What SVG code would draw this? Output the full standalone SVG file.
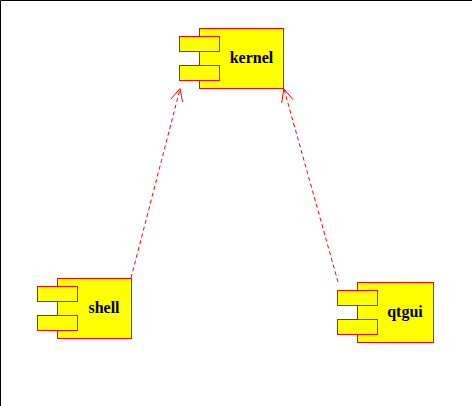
<svg xmlns="http://www.w3.org/2000/svg" width="472" height="406" viewBox="0 0 472 406">
<style>
.box{fill:#ffff00;stroke:#ff0000;stroke-width:1}
.lbl{font-family:"Liberation Serif","Times New Roman",serif;font-weight:bold;font-size:16px;fill:#000;text-anchor:middle}
.dep{fill:none;stroke:#ff0000;stroke-width:1;stroke-dasharray:4,3}
.head{fill:none;stroke:#ff0000;stroke-width:1}
</style>
<rect x="0" y="0" width="472" height="406" fill="#ffffff"/>
<path d="M0.5,406 V0.5 H472" fill="none" stroke="#000" stroke-width="1"/>
<g id="connectors">
<path class="dep" d="M131,278 L180,89"/>
<path class="head" d="M171,99 L180,88.5 L182.6,102"/>
<path class="dep" d="M338,282 L284,89"/>
<path class="head" d="M281.7,103 L283.8,88.8 L293,99.6"/>
</g>
<g id="kernel">
<rect class="box" x="199.5" y="28.5" width="84" height="60"/>
<rect class="box" x="179.5" y="36.5" width="40" height="15"/>
<rect class="box" x="179.5" y="65.5" width="40" height="15"/>
<text class="lbl" x="251.5" y="63">kernel</text>
</g>
<g id="shell">
<rect class="box" x="57.5" y="278.5" width="74" height="60"/>
<rect class="box" x="37.5" y="286.5" width="40" height="15"/>
<rect class="box" x="37.5" y="315.5" width="40" height="15"/>
<text class="lbl" x="104" y="313">shell</text>
</g>
<g id="qtgui">
<rect class="box" x="357.5" y="282.5" width="76" height="60"/>
<rect class="box" x="337.5" y="290.5" width="40" height="15"/>
<rect class="box" x="337.5" y="319.5" width="40" height="15"/>
<text class="lbl" x="405" y="317">qtgui</text>
</g>
</svg>
